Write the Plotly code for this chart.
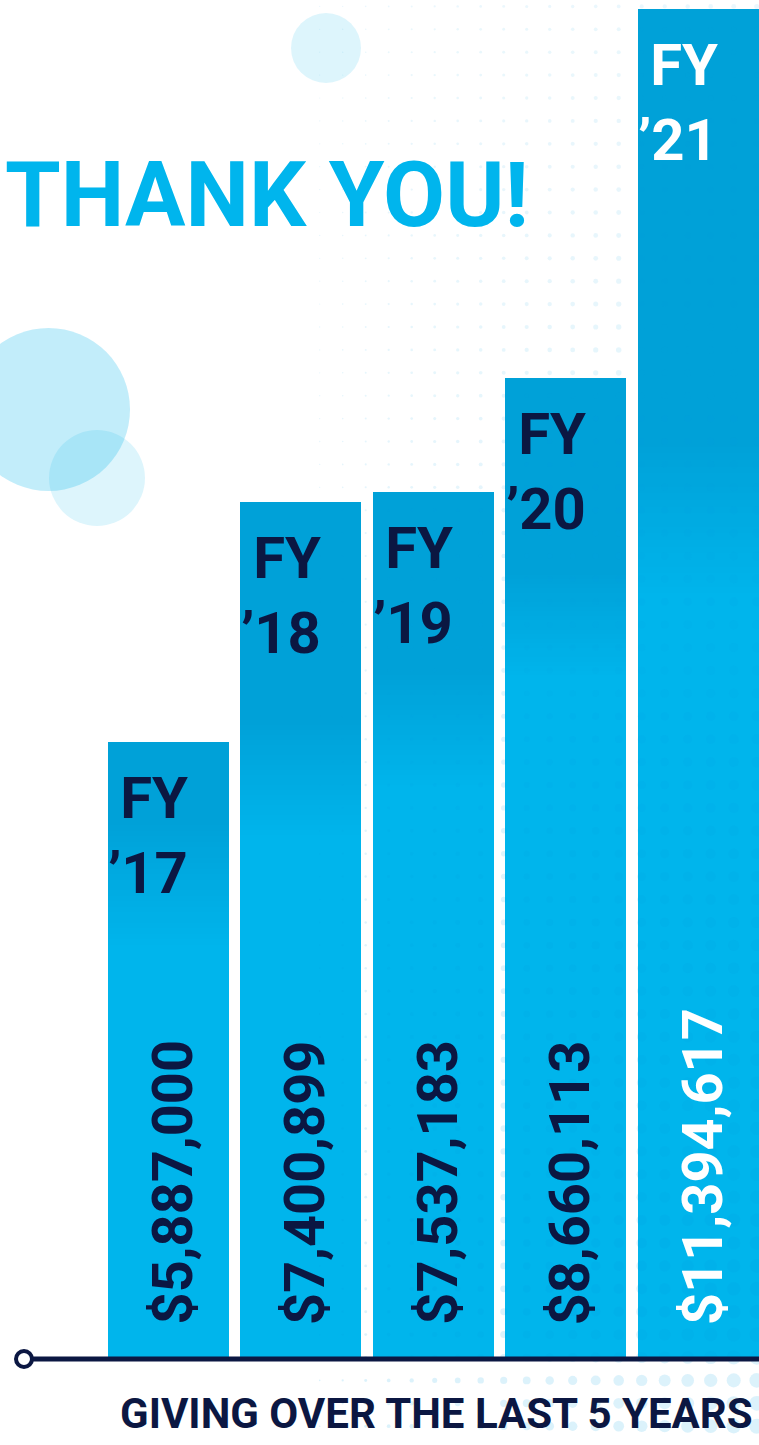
import numpy as np
import plotly.graph_objects as go

# ---------------- data ----------------
fiscal_years = ["’17", "’18", "’19", "’20", "’21"]
giving_labels = ["$5,887,000", "$7,400,899", "$7,537,183", "$8,660,113", "$11,394,617"]
giving_amounts = [5887000, 7400899, 7537183, 8660113, 11394617]
# drawn bar heights (percent of the tallest bar)
bar_heights = [45.6, 63.4, 64.2, 72.6, 100.0]

title_text = "THANK YOU!"
footer_text = "GIVING OVER THE LAST 5 YEARS"

# ---------------- style ----------------
W, H = 759, 1445
NAVY = "#0B1742"
CYAN = "#00B5ED"
WHITE = "#FFFFFF"
DARK = np.array([0, 161, 216])
BRIGHT = np.array([0, 181, 236])
FONT = "Roboto, Liberation Sans Narrow, DejaVu Sans Condensed, sans-serif"

BASE_PX = 1357.0          # baseline pixel row
PX_PER_UNIT = 13.48       # pixels per height unit
X0_PX, PITCH_PX = 168.0, 132.6
BAR_W = 121 / PITCH_PX

def px2x(px):
    return (px - X0_PX) / PITCH_PX

def py2y(py):
    return (BASE_PX - py) / PX_PER_UNIT

def pfx(px):
    return px / W

def pfy(py):
    return 1 - py / H

label_colors = [NAVY, NAVY, NAVY, NAVY, WHITE]
# gradient band (pixel rows) per bar: dark above first value, bright below second
grad_band_px = [(820, 950), (720, 840), (670, 790), (570, 680), (440, 600)]

fig = go.Figure()

# ---------------- background dot field (decoration) ----------------
gx = 250.7 + 23.0 * np.arange(23)
gy = 6.4 + 22.9 * np.arange(63)
dx, dy, ds, dc = [], [], [], []
for py in gy:
    for px in gx:
        fx = np.clip((px - 300) / 450.0, 0, 1)
        if fx <= 0:
            continue
        fy = py / H
        d = 1 + fx * (4 + 10 * fy)
        dx.append(px2x(px)); dy.append(py2y(py)); ds.append(d)
        dc.append("rgba(0,160,225,%.3f)" % (0.12 + 0.08 * fy))
fig.add_trace(go.Scatter(
    x=dx, y=dy, mode="markers",
    marker=dict(size=ds, color=dc, line=dict(width=0)),
    hoverinfo="skip", showlegend=False,
))

# ---------------- bars (sliced for vertical gradient) ----------------
N = 24
bx, bbase, blen, bcol = [], [], [], []
def rgb(c):
    return "rgb(%d,%d,%d)" % tuple(int(round(v)) for v in c)
for i, h in enumerate(bar_heights):
    y_dark = min(py2y(grad_band_px[i][0]), h)
    y_bright = min(py2y(grad_band_px[i][1]), y_dark)
    bx.append(i); bbase.append(0); blen.append(y_bright); bcol.append(rgb(BRIGHT))
    step = (y_dark - y_bright) / N
    for k in range(N):
        t = (k + 0.5) / N
        bx.append(i); bbase.append(y_bright + k * step); blen.append(step)
        bcol.append(rgb(BRIGHT * (1 - t) + DARK * t))
    bx.append(i); bbase.append(y_dark); blen.append(h - y_dark); bcol.append(rgb(DARK))

fig.add_trace(go.Bar(
    x=bx, y=blen, base=bbase, width=BAR_W,
    marker=dict(color=bcol, line=dict(width=0)),
    hoverinfo="skip", showlegend=False,
))

# ---------------- labels ----------------
for i, (fy_lbl, val, h) in enumerate(zip(fiscal_years, giving_labels, bar_heights)):
    fig.add_annotation(
        x=i + 22 / PITCH_PX, y=h, xref="x", yref="y",
        xanchor="right", yanchor="top", align="right",
        text="FY<br>" + fy_lbl, showarrow=False, yshift=-20,
        font=dict(family=FONT, size=58, color=label_colors[i], weight="bold"),
    )
    fig.add_annotation(
        x=i + 4 / PITCH_PX, y=0, xref="x", yref="y",
        xanchor="center", yanchor="bottom", textangle=-90,
        text=val, showarrow=False, yshift=30,
        font=dict(family=FONT, size=56, color=label_colors[i], weight="bold"),
    )

fig.add_annotation(
    x=pfx(3), y=pfy(196), xref="paper", yref="paper",
    xanchor="left", yanchor="middle", text=title_text, showarrow=False,
    font=dict(family=FONT, size=90, color=CYAN, weight="bold"),
)
fig.add_annotation(
    x=pfx(755), y=pfy(1413), xref="paper", yref="paper",
    xanchor="right", yanchor="middle", text=footer_text, showarrow=False,
    font=dict(family=FONT, size=42, color=NAVY, weight="bold"),
)

# ---------------- decorative shapes ----------------
def circle(cx, cy, r, color, layer="below"):
    fig.add_shape(type="circle", xref="paper", yref="paper",
                  x0=pfx(cx - r), x1=pfx(cx + r), y0=pfy(cy + r), y1=pfy(cy - r),
                  fillcolor=color, line=dict(width=0), layer=layer)

circle(48.5, 409.5, 81.5, "rgba(0,180,236,0.24)")
circle(97, 478, 48, "rgba(0,180,236,0.135)")
circle(326, 48, 35, "rgba(0,180,236,0.135)")

fig.add_shape(type="line", xref="paper", yref="paper",
              x0=pfx(30), x1=1, y0=pfy(1359), y1=pfy(1359),
              line=dict(color=NAVY, width=5), layer="above")
fig.add_shape(type="circle", xref="paper", yref="paper",
              x0=pfx(16), x1=pfx(32), y0=pfy(1367), y1=pfy(1351),
              fillcolor=WHITE, line=dict(color=NAVY, width=4), layer="above")

fig.update_layout(
    width=W, height=H, margin=dict(l=0, r=0, t=0, b=0),
    paper_bgcolor=WHITE, plot_bgcolor=WHITE,
    showlegend=False, bargap=0,
    xaxis=dict(range=[px2x(0), px2x(W)], visible=False, fixedrange=True),
    yaxis=dict(range=[py2y(H), py2y(0)], visible=False, fixedrange=True),
)

fig.write_html("out.html", config={"displayModeBar": False})
